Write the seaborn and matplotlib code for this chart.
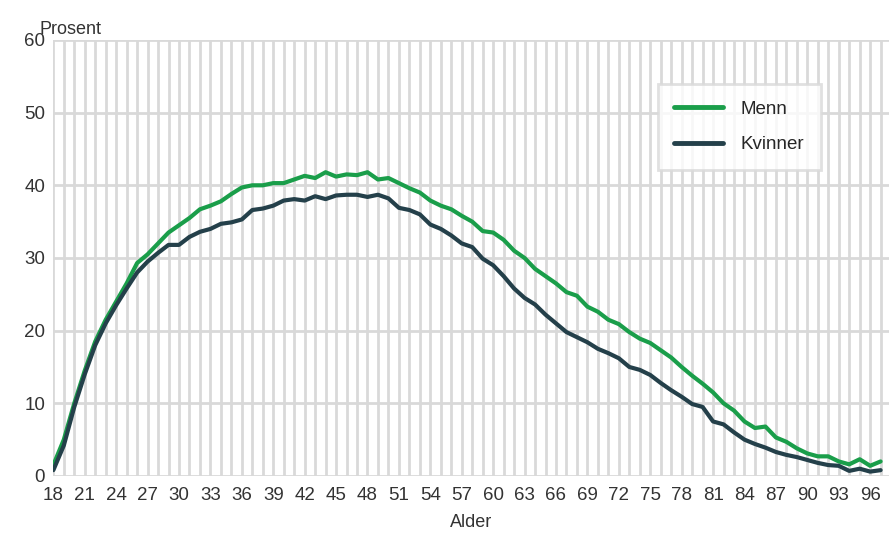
import numpy as np
import pandas as pd
import matplotlib
matplotlib.use('Agg')
import matplotlib.pyplot as plt
import seaborn as sns
from matplotlib.ticker import MultipleLocator

# Alder 18-97
ages = list(range(18, 98))

menn = [1.5, 5.0, 10.0, 14.5, 18.5, 21.5, 24.0, 26.5, 29.3, 30.5,
        32.0, 33.5, 34.5, 35.5, 36.7, 37.2, 37.8, 38.8, 39.7, 40.0,
        40.0, 40.3, 40.3, 40.8, 41.3, 41.0, 41.8, 41.2, 41.5, 41.4,
        41.8, 40.8, 41.0, 40.3, 39.6, 39.0, 37.9, 37.2, 36.7, 35.8,
        35.0, 33.7, 33.5, 32.5, 31.0, 30.0, 28.5, 27.5, 26.5, 25.3,
        24.8, 23.3, 22.6, 21.5, 20.9, 19.8, 18.9, 18.3, 17.3, 16.3,
        15.0, 13.8, 12.7, 11.5, 10.0, 9.0, 7.5, 6.6, 6.8, 5.3,
        4.7, 3.8, 3.1, 2.7, 2.7, 2.0, 1.6, 2.3, 1.4, 2.0]

kvinner = [0.8, 4.2, 9.5, 14.0, 18.0, 21.0, 23.5, 25.8, 28.0, 29.5,
           30.7, 31.8, 31.8, 32.9, 33.6, 34.0, 34.7, 34.9, 35.3, 36.6,
           36.8, 37.2, 37.9, 38.1, 37.9, 38.5, 38.1, 38.6, 38.7, 38.7,
           38.4, 38.7, 38.2, 36.9, 36.6, 36.0, 34.6, 34.0, 33.1, 32.0,
           31.5, 29.9, 29.0, 27.5, 25.8, 24.5, 23.6, 22.2, 21.0, 19.8,
           19.1, 18.4, 17.5, 16.9, 16.2, 15.0, 14.6, 13.9, 12.8, 11.8,
           10.9, 9.9, 9.5, 7.5, 7.1, 6.0, 5.0, 4.4, 3.9, 3.3,
           2.9, 2.6, 2.2, 1.8, 1.5, 1.4, 0.7, 1.0, 0.6, 0.8]

series_names = ['Menn', 'Kvinner']
colors = ['#1a9e4a', '#24404a']

df = pd.DataFrame({
    'Alder': ages * 2,
    'Prosent': menn + kvinner,
    'Kjønn': ['Menn'] * len(ages) + ['Kvinner'] * len(ages),
})

sns.set_style('white')
plt.rcParams['font.family'] = ['Liberation Sans', 'DejaVu Sans']

fig = plt.figure(figsize=(8.89, 5.33), dpi=100)
ax = fig.add_axes([0.06, 0.107, 0.94, 0.818])

sns.lineplot(data=df, x='Alder', y='Prosent', hue='Kjønn', hue_order=series_names,
             palette=colors, linewidth=3.0, ax=ax)

ax.set_xlim(18, 97.8)
ax.set_ylim(0, 60)
ax.xaxis.set_major_locator(MultipleLocator(3))
ax.xaxis.set_minor_locator(MultipleLocator(1))
ax.yaxis.set_major_locator(MultipleLocator(10))
ax.grid(True, which='both', axis='x', color='#d9d9d9', linewidth=2.0)
ax.grid(True, which='major', axis='y', color='#d9d9d9', linewidth=2.0)
ax.set_axisbelow(True)
for s in ax.spines.values():
    s.set_visible(False)
ax.tick_params(axis='both', which='both', length=0, labelsize=13.5,
               labelcolor='#333333')
ax.tick_params(axis='x', pad=8)
ax.tick_params(axis='y', pad=6)

ax.set_xlabel('Alder', fontsize=13, color='#333333', labelpad=7)
ax.set_ylabel('')
ax.text(-0.017, 1.005, 'Prosent', transform=ax.transAxes, fontsize=13,
        color='#333333', ha='left', va='bottom')

leg = ax.legend(loc='upper left', bbox_to_anchor=(0.723, 0.9), frameon=True,
                fontsize=13.5, handlelength=2.6, borderpad=0.9, labelspacing=1.0,
                handletextpad=0.9, fancybox=False, borderaxespad=0)
leg.get_frame().set_edgecolor('#d9d9d9')
leg.get_frame().set_linewidth(2.0)
for line in leg.get_lines():
    line.set_linewidth(3.5)
    line.set_solid_capstyle('round')

fig.savefig('out.png', dpi=100)
